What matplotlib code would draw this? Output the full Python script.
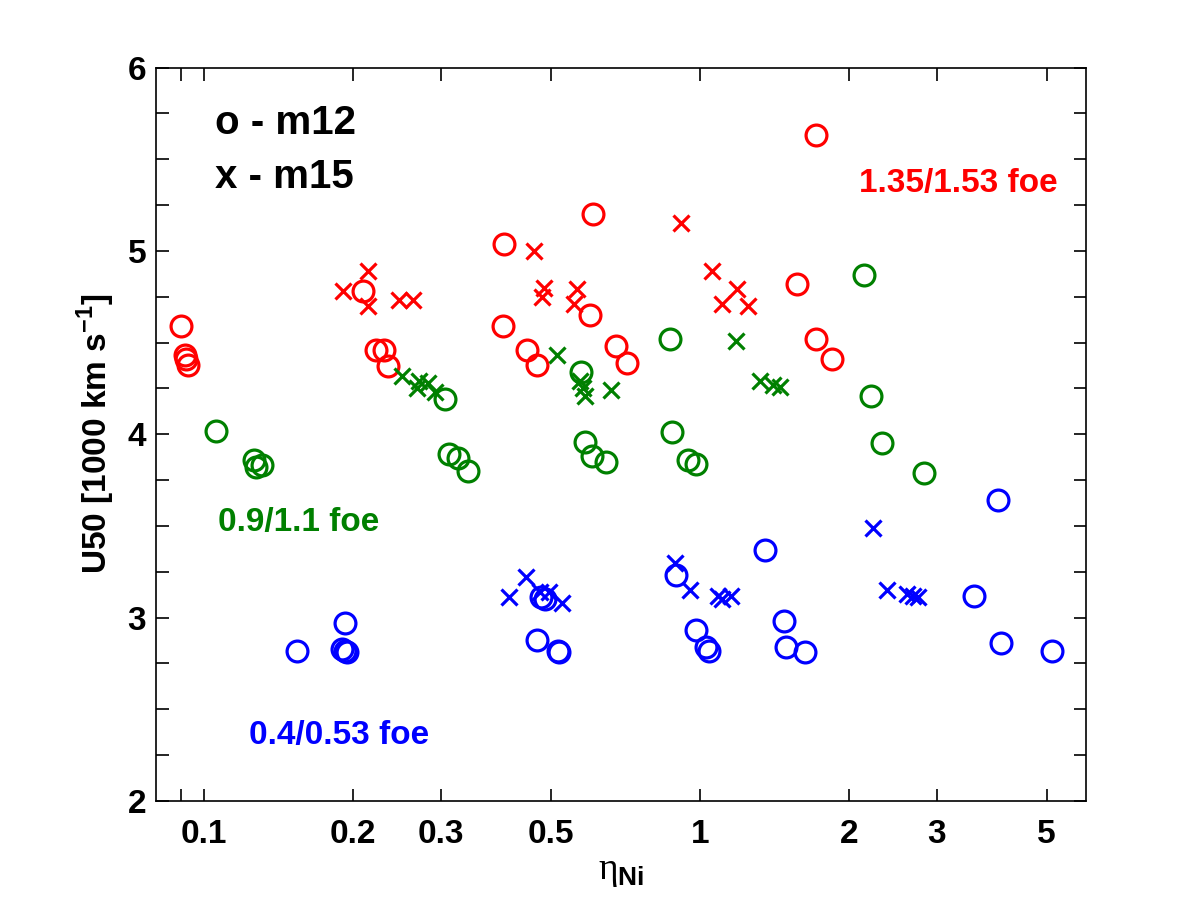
import numpy as np
import matplotlib
matplotlib.use("Agg")
import matplotlib.pyplot as plt
from matplotlib.ticker import FixedLocator, NullFormatter, FixedFormatter

plt.rcParams['font.family'] = ['Liberation Sans', 'DejaVu Sans']
plt.rcParams['font.weight'] = 'bold'
plt.rcParams['mathtext.fontset'] = 'custom'
plt.rcParams['mathtext.rm'] = 'Liberation Serif:weight=normal'
plt.rcParams['mathtext.bf'] = 'Liberation Sans:weight=bold'

# --- data: eta_Ni vs U50 (1000 km/s) ---
# high energy (1.35/1.53 foe), red
red_m12_eta = [0.090, 0.0916, 0.092, 0.0928, 0.209, 0.222, 0.231, 0.235,
               0.403, 0.401, 0.448, 0.469, 0.609, 0.600, 0.677, 0.713,
               1.713, 1.569, 1.713, 1.846]
red_m12_u50 = [4.59, 4.43, 4.41, 4.38, 4.78, 4.46, 4.46, 4.37,
               5.04, 4.59, 4.46, 4.38, 5.20, 4.65, 4.48, 4.39,
               5.63, 4.82, 4.52, 4.41]
red_m15_eta = [0.191, 0.214, 0.214, 0.247, 0.264, 0.463, 0.485, 0.480,
               0.565, 0.557, 0.916, 1.057, 1.187, 1.108, 1.250]
red_m15_u50 = [4.78, 4.89, 4.70, 4.73, 4.73, 5.00, 4.80, 4.75,
               4.79, 4.71, 5.15, 4.89, 4.79, 4.71, 4.70]

# medium energy (0.9/1.1 foe), green
grn_m12_eta = [0.1057, 0.126, 0.127, 0.131, 0.306, 0.312, 0.325, 0.341,
               0.576, 0.586, 0.606, 0.646, 0.870, 0.878, 0.946, 0.981,
               2.141, 2.212, 2.328, 2.829]
grn_m12_u50 = [4.02, 3.86, 3.82, 3.83, 4.19, 3.89, 3.87, 3.80,
               4.34, 3.96, 3.88, 3.85, 4.52, 4.01, 3.86, 3.84,
               4.87, 4.21, 3.95, 3.79]
grn_m15_eta = [0.251, 0.271, 0.269, 0.283, 0.292, 0.515, 0.573, 0.581,
               0.586, 0.662, 1.182, 1.321, 1.404, 1.450]
grn_m15_u50 = [4.32, 4.29, 4.25, 4.28, 4.23, 4.43, 4.29, 4.25,
               4.21, 4.24, 4.51, 4.29, 4.27, 4.26]

# low energy (0.4/0.53 foe), blue
blu_m12_eta = [0.154, 0.192, 0.190, 0.1925, 0.194, 0.478, 0.487, 0.469,
               0.517, 0.520, 0.895, 0.981, 1.028, 1.042, 1.352, 1.477,
               1.491, 1.628, 3.568, 4.045, 5.126, 3.989]
blu_m12_u50 = [2.82, 2.97, 2.83, 2.82, 2.81, 3.11, 3.10, 2.88,
               2.82, 2.81, 3.23, 2.93, 2.84, 2.82, 3.37, 2.98,
               2.84, 2.81, 3.12, 2.86, 2.82, 3.64]
blu_m15_eta = [0.412, 0.446, 0.476, 0.496, 0.527, 0.890, 0.955, 1.087,
               1.108, 1.155, 2.233, 2.382, 2.614, 2.688, 2.751]
blu_m15_u50 = [3.11, 3.22, 3.14, 3.14, 3.08, 3.30, 3.15, 3.12,
               3.10, 3.12, 3.49, 3.15, 3.13, 3.12, 3.11]

x_ticks = [0.1, 0.2, 0.3, 0.5, 1, 2, 3, 5]
x_ticklabels = ['0.1', '0.2', '0.3', '0.5', '1', '2', '3', '5']

RED = '#ff0000'
GREEN = '#008000'
BLUE = '#0000ff'

fig = plt.figure(figsize=(12, 9), dpi=100)
ax = fig.add_axes([0.13, 0.11, 0.775, 0.815])

circ = dict(marker='o', linestyle='none', markersize=15, markeredgewidth=2.3,
            markerfacecolor='none')
cross = dict(marker='x', linestyle='none', markersize=11, markeredgewidth=2.3)

ax.plot(red_m12_eta, red_m12_u50, color=RED, **circ)
ax.plot(red_m15_eta, red_m15_u50, color=RED, **cross)
ax.plot(grn_m12_eta, grn_m12_u50, color=GREEN, **circ)
ax.plot(grn_m15_eta, grn_m15_u50, color=GREEN, **cross)
ax.plot(blu_m12_eta, blu_m12_u50, color=BLUE, **circ)
ax.plot(blu_m15_eta, blu_m15_u50, color=BLUE, **cross)

ax.set_xscale('log')
ax.set_xlim(0.08, 6)
ax.set_ylim(2, 6)

ax.xaxis.set_major_locator(FixedLocator(x_ticks))
ax.xaxis.set_major_formatter(FixedFormatter(x_ticklabels))
ax.xaxis.set_minor_locator(FixedLocator([0.09]))
ax.xaxis.set_minor_formatter(NullFormatter())
ax.yaxis.set_major_locator(FixedLocator([2, 3, 4, 5, 6]))
ax.yaxis.set_minor_locator(FixedLocator(np.arange(2, 6.01, 0.25)))

ax.tick_params(which='both', direction='in', top=True, right=True,
               length=9, width=1.2, labelsize=24)
ax.tick_params(axis='x', which='major', pad=13)
ax.tick_params(axis='y', which='major', pad=7)
for s in ax.spines.values():
    s.set_linewidth(1.2)

ax.set_xlabel(r'$\mathrm{\eta}_{\mathbf{Ni}}$', fontsize=27, labelpad=2)
ax.set_ylabel(r'U50 [1000 km s$^{\mathbf{-1}}$]', fontsize=24,
              fontweight='bold', labelpad=8)

ax.text(0.105, 5.64, 'o - m12', fontsize=29, fontweight='bold',
        ha='left', va='baseline')
ax.text(0.105, 5.345, 'x - m15', fontsize=29, fontweight='bold',
        ha='left', va='baseline')
ax.text(2.09, 5.32, '1.35/1.53 foe', fontsize=24, fontweight='bold',
        color=RED, ha='left', va='baseline')
ax.text(0.1067, 3.47, '0.9/1.1 foe', fontsize=24, fontweight='bold',
        color=GREEN, ha='left', va='baseline')
ax.text(0.1232, 2.31, '0.4/0.53 foe', fontsize=24, fontweight='bold',
        color=BLUE, ha='left', va='baseline')

fig.savefig('out.png', dpi=100)
